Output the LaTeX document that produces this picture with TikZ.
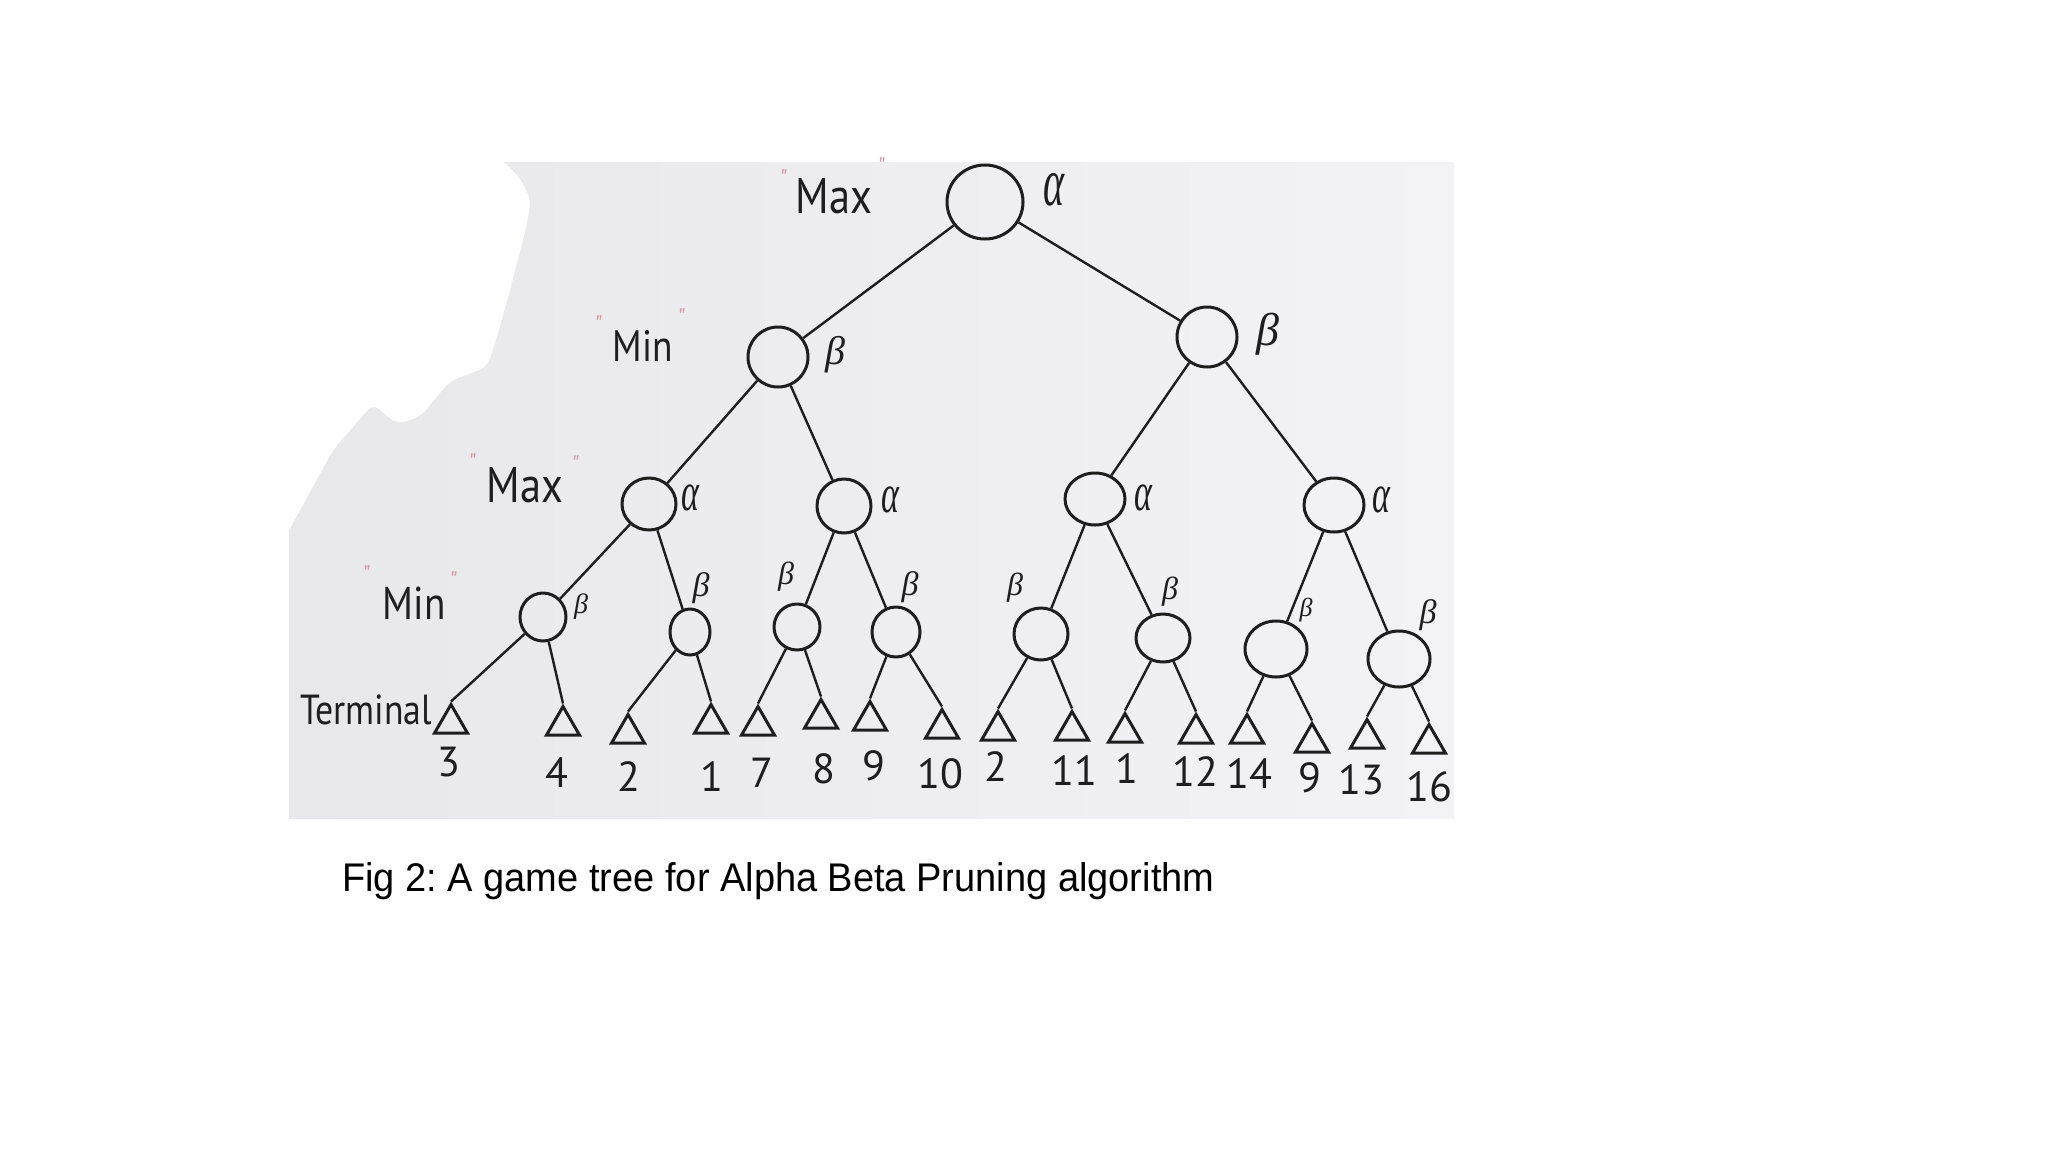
\documentclass[tikz,border=0pt]{standalone}
\usepackage{fontspec}
\usepackage{graphicx}
\usetikzlibrary{shapes.geometric}
\setmainfont{PT Sans}
\newfontfamily\handfont[FakeStretch=0.85]{PT Sans}
\newfontfamily\numfont{PT Sans}
\newfontfamily\grkfont{Liberation Serif}
\newfontfamily\capfont[FakeStretch=0.95]{Liberation Sans}
\definecolor{ink}{HTML}{1E1E1E}
\definecolor{photoL}{HTML}{E8E8EB}
\definecolor{photoR}{HTML}{F3F3F5}
\definecolor{quotec}{HTML}{D79AA3}
\frenchspacing
\begin{document}
\begin{tikzpicture}[x=1pt,y=-1pt,
  state/.style={ellipse, draw=ink, line width=3pt, inner sep=0pt},
  term/.style={regular polygon, regular polygon sides=3, draw=ink, line width=3pt, minimum size=38pt, inner sep=0pt},
  link/.style={draw=ink, line width=2.4pt},
  lvl/.style={text=ink, inner sep=0pt, font=\handfont\fontsize{#1}{#1}\selectfont},
  num/.style={text=ink, inner sep=0pt, font=\numfont\fontsize{42}{42}\selectfont},
  glab/.style={text=ink, inner sep=0pt, font=\grkfont\itshape\fontsize{#1}{#1}\selectfont},
  qmark/.style={text=quotec, inner sep=0pt, font=\numfont\fontsize{24}{24}\selectfont}]
\useasboundingbox (0,0) rectangle (2048,1152);
\fill[white] (0,0) rectangle (2048,1152);
% photo background
\shade[left color=photoL, right color=photoR] (289,162) rectangle (1454,818);
\fill[white, rounded corners=8pt] (286,158) -- (500,158) -- (520,178) -- (531,200) -- (526,228)
  -- (510,290) -- (497,337) -- (487,367) -- (450,381) -- (420,417) -- (397,424) -- (373,404)
  -- (333,450) -- (293,523) -- (286,535) -- cycle;

% min/max nodes
\node[state, minimum width=76, minimum height=74] (root) at (985,202) {};
\node[state, minimum width=60, minimum height=60] (mL) at (778,357) {};
\node[state, minimum width=60, minimum height=60] (mR) at (1207,337) {};
\node[state, minimum width=54, minimum height=52] (xA) at (649,504) {};
\node[state, minimum width=54, minimum height=54] (xB) at (844,506) {};
\node[state, minimum width=60, minimum height=52] (xC) at (1095,499) {};
\node[state, minimum width=60, minimum height=54] (xD) at (1334,505) {};
\node[state, minimum width=46, minimum height=48] (nA) at (543,617) {};
\node[state, minimum width=40, minimum height=46] (nB) at (690,632) {};
\node[state, minimum width=46, minimum height=46] (nC) at (797,627) {};
\node[state, minimum width=48, minimum height=50] (nD) at (896,632) {};
\node[state, minimum width=54, minimum height=52] (nE) at (1041,634) {};
\node[state, minimum width=54, minimum height=48] (nF) at (1163,638) {};
\node[state, minimum width=62, minimum height=56] (nG) at (1276,649) {};
\node[state, minimum width=62, minimum height=56] (nH) at (1399,659) {};

% terminals
\node[term] (t1) at (451,723.5) {};
\node[term] (t2) at (563,725.5) {};
\node[term] (t3) at (628,733.5) {};
\node[term] (t4) at (711,723.5) {};
\node[term] (t5) at (758,725.5) {};
\node[term] (t6) at (821,718.5) {};
\node[term] (t7) at (870,720.5) {};
\node[term] (t8) at (942,728.5) {};
\node[term] (t9) at (998,730.5) {};
\node[term] (t10) at (1072,730.5) {};
\node[term] (t11) at (1125,732.5) {};
\node[term] (t12) at (1196,733.5) {};
\node[term] (t13) at (1247,733.5) {};
\node[term] (t14) at (1312,742.5) {};
\node[term] (t15) at (1367,738.5) {};
\node[term] (t16) at (1429,743.5) {};

% terminal values
\node[num] (v1) at (449,762) {3};
\node[num] (v2) at (557,773) {4};
\node[num] (v3) at (629,777) {2};
\node[num] (v4) at (712,777) {1};
\node[num] (v5) at (762,773) {7};
\node[num] (v6) at (824,769) {8};
\node[num] (v7) at (874,766) {9};
\node[num] (v8) at (940,774) {10};
\node[num] (v9) at (996,767) {2};
\node[num] (v10) at (1074,771) {11};
\node[num] (v11) at (1127,769) {1};
\node[num] (v12) at (1195,772) {12};
\node[num] (v13) at (1249,774) {14};
\node[num] (v14) at (1310,778) {9};
\node[num] (v15) at (1361,780) {13};
\node[num] (v16) at (1429,787) {16};

% edges
\draw[link] (root) -- (mL);
\draw[link] (root) -- (mR);
\draw[link] (mL) -- (xA);
\draw[link] (mL) -- (xB);
\draw[link] (mR) -- (xC);
\draw[link] (mR) -- (xD);
\draw[link] (xA) -- (nA);
\draw[link] (xA) -- (nB);
\draw[link] (xB) -- (nC);
\draw[link] (xB) -- (nD);
\draw[link] (xC) -- (nE);
\draw[link] (xC) -- (nF);
\draw[link] (xD) -- (nG);
\draw[link] (xD) -- (nH);
\draw[link] (nA) -- (t1.corner 1);
\draw[link] (nA) -- (t2.corner 1);
\draw[link] (nB) -- (t3.corner 1);
\draw[link] (nB) -- (t4.corner 1);
\draw[link] (nC) -- (t5.corner 1);
\draw[link] (nC) -- (t6.corner 1);
\draw[link] (nD) -- (t7.corner 1);
\draw[link] (nD) -- (t8.corner 1);
\draw[link] (nE) -- (t9.corner 1);
\draw[link] (nE) -- (t10.corner 1);
\draw[link] (nF) -- (t11.corner 1);
\draw[link] (nF) -- (t12.corner 1);
\draw[link] (nG) -- (t13.corner 1);
\draw[link] (nG) -- (t14.corner 1);
\draw[link] (nH) -- (t15.corner 1);
\draw[link] (nH) -- (t16.corner 1);

% level labels
\node[lvl=50] (lmax0) at (834,196) {Max};
\node[qmark] (q1) at (784,178) {"};
\node[qmark] (q2) at (882,166) {"};
\node[lvl=44] (lmin1) at (643,346) {Min};
\node[qmark] (q3) at (599,324) {"};
\node[qmark] (q4) at (682,317) {"};
\node[lvl=50] (lmax2) at (525,485) {Max};
\node[qmark] (q5) at (473,462) {"};
\node[qmark] (q6) at (576,464) {"};
\node[lvl=46] (lmin3) at (414,603) {Min};
\node[qmark] (q7) at (367,574) {"};
\node[qmark] (q8) at (454,580) {"};
\node[lvl=42] (lterm) at (366,710) {Terminal};

% alpha / beta labels
\node[glab=40] (a0) at (1054,190) {\scalebox{1}[1.7]{α}};
\node[glab=40] (b1) at (835,355) {β};
\node[glab=46] (b2) at (1268,334) {β};
\node[glab=34] (a1) at (690,498) {\scalebox{1}[1.6]{α}};
\node[glab=34] (a2) at (890,500) {\scalebox{1}[1.6]{α}};
\node[glab=34] (a3) at (1143,498) {\scalebox{1}[1.6]{α}};
\node[glab=34] (a4) at (1381,500) {\scalebox{1}[1.6]{α}};
\node[glab=28] (c1) at (581,607) {β};
\node[glab=34] (c2) at (701,588) {β};
\node[glab=32] (c3) at (786,577) {β};
\node[glab=34] (c4) at (910,587) {β};
\node[glab=32] (c5) at (1015,588) {β};
\node[glab=32] (c6) at (1170,592) {β};
\node[glab=26] (c7) at (1306,610) {β};
\node[glab=34] (c8) at (1428,615) {β};

% caption
\node[anchor=base west, inner sep=0pt, text=black, font=\capfont\fontsize{40}{40}\selectfont] (cap) at (342,891) {Fig 2: A game tree for Alpha Beta Pruning algorithm};
\end{tikzpicture}
\end{document}
